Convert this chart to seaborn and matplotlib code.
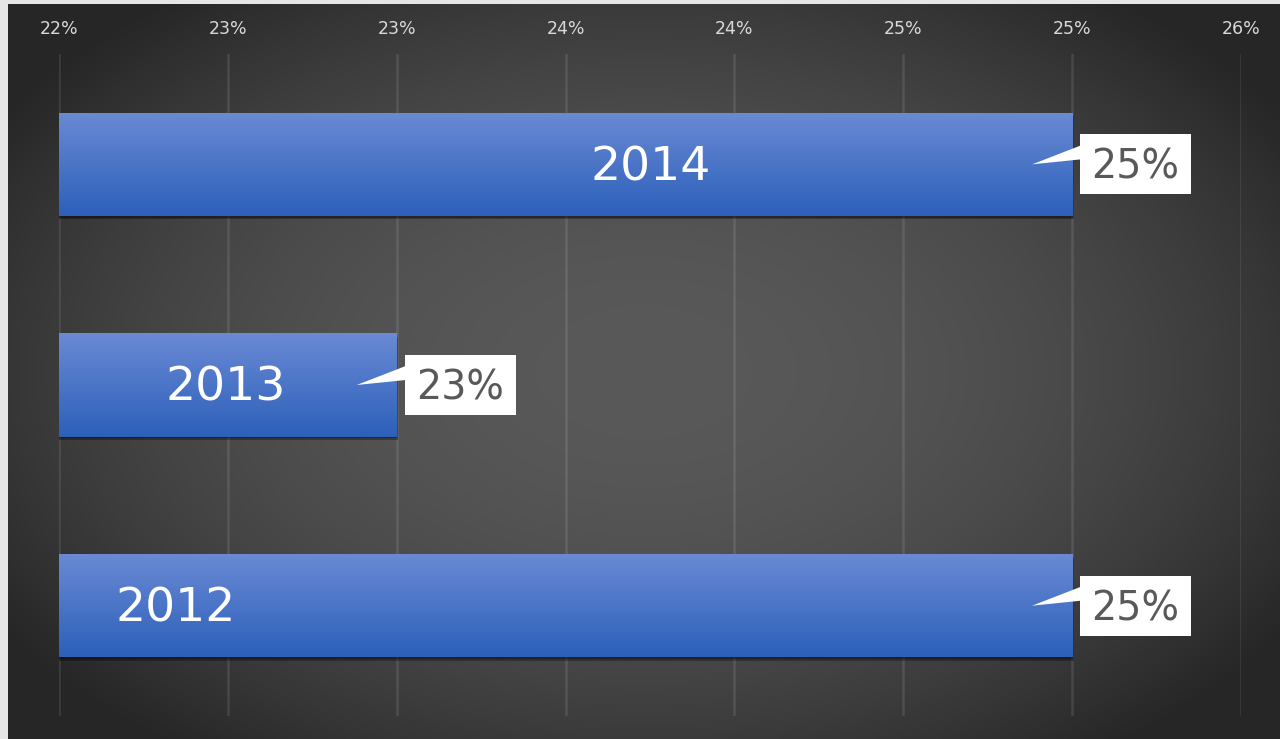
import numpy as np
import pandas as pd
import matplotlib
matplotlib.use("Agg")
import matplotlib.pyplot as plt
import matplotlib.transforms as mtransforms
import matplotlib.patheffects as pe
from matplotlib.patches import Rectangle, Polygon
import seaborn as sns

# ---- data ----
years = ["2014", "2013", "2012"]
values = [25.0, 23.0, 25.0]            # percent
value_labels = ["25%", "23%", "25%"]
tick_values = [22.0, 22.5, 23.0, 23.5, 24.0, 24.5, 25.0, 25.5]
tick_labels = ["22%", "23%", "23%", "24%", "24%", "25%", "25%", "26%"]

# ---- layout / style ----
W, H, DPI = 1280, 739, 100
XMIN, XMAX = 22.0, 25.5
label_frac = [0.584, 0.494, 0.115]     # year-label position along visible bar
sns.set_theme(style="white")
plt.rcParams["font.family"] = ["DejaVu Sans"]

fig = plt.figure(figsize=(W / DPI, H / DPI), dpi=DPI, facecolor="#e6e6e6")

# dark radial-gradient background
bg = fig.add_axes([8 / W, 0, 1 - 8 / W, (H - 4) / H])
bh, bw = H - 4, W - 8
yy, xx = np.mgrid[0:bh, 0:bw]
r = np.sqrt(((xx - bw / 2) / 760.0) ** 2 + ((yy - bh / 2) / 470.0) ** 2)
r = np.clip(r, 0, 1)
edge, center = 39 / 255, 89 / 255
g = edge + (center - edge) * (1 - r ** 2)
bg.imshow(np.dstack([g, g, g]), aspect="auto", extent=[0, 1, 0, 1])
bg.set_axis_off()

# main axes
ax = fig.add_axes([59 / W, 23 / H, 1182 / W, 662 / H])
ax.set_facecolor("none")

df = pd.DataFrame({"year": years, "value": values})
sns.barplot(data=df, x="value", y="year", order=years, orient="h",
            width=0.467, color="#3f6fc6", ax=ax, zorder=3)

# gradient fill + shadow on bars
grad_top = np.array([0x6a, 0x8a, 0xd4]) / 255
grad_bot = np.array([0x2c, 0x60, 0xba]) / 255
n = 100
tvals = np.linspace(0, 1, n)[:, None, None]
grad = grad_top[None, None, :] * (1 - tvals) + grad_bot[None, None, :] * tvals
for p in ax.patches:
    x0, y0, w, h = p.get_x(), p.get_y(), p.get_width(), p.get_height()
    p.set_edgecolor("none")
    p.set_path_effects([pe.SimplePatchShadow(offset=(1.0, -2.5), shadow_rgbFace="black", alpha=0.3),
                        pe.SimplePatchShadow(offset=(0.5, -1.2), shadow_rgbFace="black", alpha=0.3),
                        pe.Normal()])
    xl = max(x0, XMIN)
    im = ax.imshow(grad, extent=[xl, x0 + w, y0 + h, y0], aspect="auto", zorder=4,
                   interpolation="bilinear")
    im.set_clip_path(p)

ax.set_xlim(XMIN, XMAX)
ax.set_ylim(2.5, -0.5)

# axis styling
ax.xaxis.tick_top()
ax.set_xticks(tick_values)
ax.set_xticklabels(tick_labels)
ax.tick_params(axis="x", length=0, pad=11.5, labelsize=12.5, labelcolor="#d9d9d9")
ax.tick_params(axis="y", length=0, labelleft=False)
ax.set_xlabel("")
ax.set_ylabel("")
for s in ax.spines.values():
    s.set_visible(False)
ax.grid(axis="x", color="white", alpha=0.1, lw=1.8)
ax.grid(axis="y", visible=False)
ax.set_axisbelow(True)

# year labels inside bars
for i, (yr, v) in enumerate(zip(years, values)):
    xl = XMIN + label_frac[i] * (v - XMIN)
    ax.annotate(yr, (xl, i), xytext=(0, -2.5), textcoords="offset points",
                ha="center", va="center", color="white", fontsize=34, zorder=6)

# callout value labels
fig.canvas.draw()
ident = mtransforms.IdentityTransform()
for i, (v, lab) in enumerate(zip(values, value_labels)):
    xe, yc = ax.transData.transform((v, i))
    bl = xe + 8
    box = Rectangle((bl, yc - 30), 111, 60, facecolor="white", edgecolor="none",
                    transform=ident, zorder=7, clip_on=False)
    tri = Polygon([(xe - 40, yc), (bl + 1, yc + 19), (bl + 1, yc + 5)], closed=True,
                  facecolor="white", edgecolor="none", transform=ident, zorder=7, clip_on=False)
    fig.patches.extend([box, tri])
    fig.text((bl + 55.5) / W, (yc - 3.5) / H, lab, ha="center", va="center",
             color="#595959", fontsize=28.5, zorder=8)

fig.savefig("out.png", dpi=DPI, facecolor=fig.get_facecolor())
